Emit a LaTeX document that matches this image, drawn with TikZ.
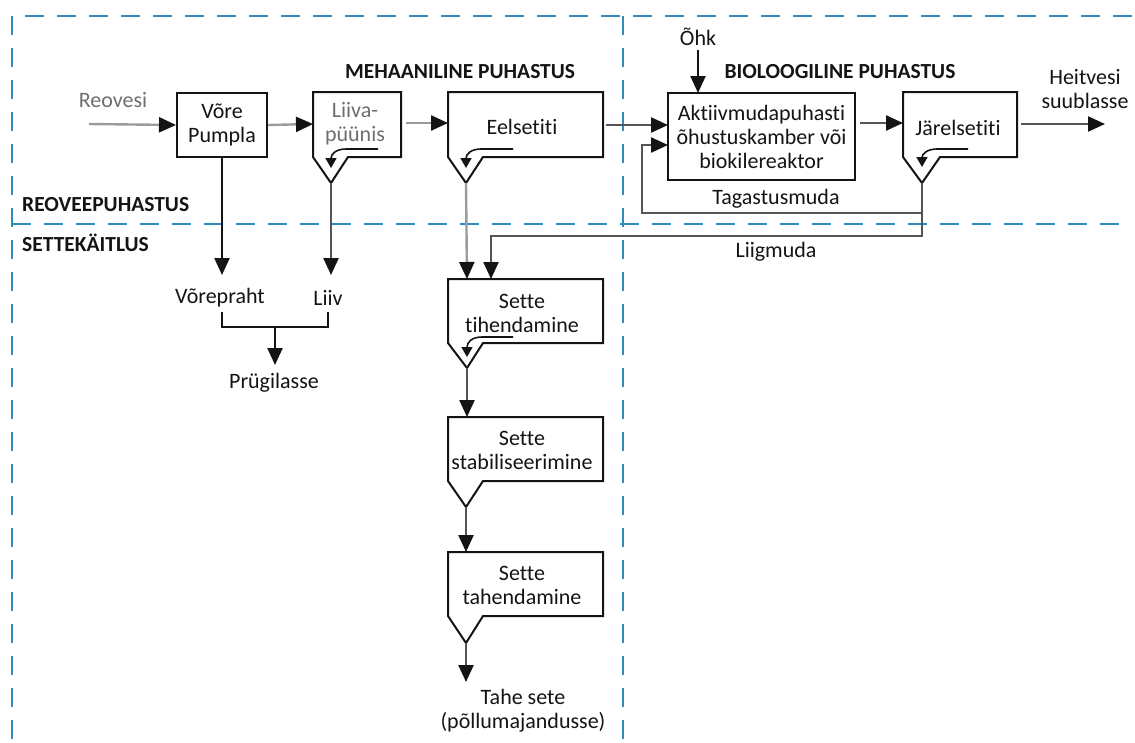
\documentclass[tikz,border=0pt]{standalone}
\usepackage{fontspec}
\setmainfont{Carlito}[Ligatures=NoCommon]
\usetikzlibrary{arrows.meta}
\definecolor{zoneblue}{RGB}{48,140,188}
\definecolor{ink}{RGB}{20,20,20}
\definecolor{lgray}{RGB}{155,155,155}
\definecolor{mgray}{RGB}{85,85,85}
\definecolor{tgray}{RGB}{110,110,110}
\begin{document}
\begin{tikzpicture}[x=1pt,y=-1pt,
  lbl/.style={font=\fontsize{22}{24}\selectfont, align=center, inner sep=0pt, text=ink},
  hdr/.style={font=\fontsize{21.5}{24}\selectfont\bfseries, inner sep=0pt, text=ink},
  zone/.style={draw=zoneblue, line width=2pt, dash pattern=on 19pt off 13pt},
  boxline/.style={draw=ink, line width=2pt, line join=miter},
  flow/.style={draw=ink, line width=2.4pt, -{Triangle[length=17pt,width=15pt,color=ink]}},
  gflow/.style={flow, draw=lgray},
  mflow/.style={flow, draw=mgray},
  pipe/.style={draw=ink, line width=2.2pt},
  inner/.style={draw=ink, line width=1.6pt, -{Triangle[length=10pt,width=11pt,color=ink]}}
]
\useasboundingbox (0,0) rectangle (1135,742);

% zones
\draw[zone] (1132,16) -- (12,16) -- (12,742);
\draw[zone] (623,16) -- (623,742);
\draw[zone] (12,224) -- (1132,224);
\node[hdr, anchor=west] (reoveepuh) at (22,205) {REOVEEPUHASTUS};
\node[hdr, anchor=west] (settek) at (22,243) {SETTEKÄITLUS};
\node[hdr] (meh) at (460,72) {MEHAANILINE PUHASTUS};
\node[hdr] (bio) at (840,72) {BIOLOOGILINE PUHASTUS};

% Võre
\node[boxline, lbl, minimum width=90, minimum height=64] (vore) at (222,125) {Võre\\Pumpla};

% Liiva-püünis
\draw[boxline] (313,92) -- (401,92) -- (401,157) -- (348,157) -- (331,183) -- (313,157) -- cycle;
\coordinate (liivatip) at (331,183);
\coordinate (liivain) at (313,124);
\coordinate (liivaout) at (406,123);
\node[lbl, text=tgray] (liiva) at (355,124) {Liiva-\\püünis};

% Eelsetiti
\draw[boxline] (448,92) -- (603,92) -- (603,157) -- (483,157) -- (466,183) -- (448,157) -- cycle;
\coordinate (eeltip) at (466,183);
\coordinate (eelin) at (448,123);
\coordinate (eelout) at (606,125);
\node[lbl] (eel) at (522,127) {Eelsetiti};

% Aktiiv
\node[boxline, lbl, minimum width=187, minimum height=87] (akt) at (761.5,136.5) {Aktiivmudapuhasti\\õhustuskamber või\\biokilereaktor};
\coordinate (aktin) at (668,125);
\coordinate (aktret) at (668,145);
\coordinate (aktout) at (860,123);
\coordinate (akttop) at (698,93);

% Järelsetiti
\draw[boxline] (903,92) -- (1017,92) -- (1017,157) -- (940,157) -- (922,183) -- (903,157) -- cycle;
\coordinate (jartip) at (922,183);
\coordinate (jarin) at (903,123);
\coordinate (jarout) at (1021,124);
\node[lbl] (jar) at (958,128) {Järelsetiti};

% Sette boxes
\draw[boxline] (448,279) -- (603,279) -- (603,343) -- (483,343) -- (467,368) -- (448,343) -- cycle;
\coordinate (s1top) at (467,279);
\coordinate (s1topb) at (491,279);
\coordinate (s1tip) at (467,368);
\node[lbl] (s1) at (522,313) {Sette\\tihendamine};

\draw[boxline] (448,417) -- (603,417) -- (603,481) -- (483,481) -- (466,507) -- (448,481) -- cycle;
\coordinate (s2top) at (467,417);
\coordinate (s2tip) at (466,507);
\node[lbl] (s2) at (522,450) {Sette\\stabiliseerimine};

\draw[boxline] (448,552) -- (603,552) -- (603,616) -- (483,616) -- (466,643) -- (448,616) -- cycle;
\coordinate (s3top) at (466,552);
\coordinate (s3tip) at (466,643);
\node[lbl] (s3) at (522,585) {Sette\\tahendamine};

% labels
\node[lbl, text=tgray] (reovesi) at (113,100) {Reovesi};
\coordinate (reoin) at (89,124);
\node[lbl] (ohk) at (698,37) {Õhk};
\coordinate (ohkstart) at (698,50);
\node[lbl] (heit) at (1085,89) {Heitvesi\\suublasse};
\coordinate (heitend) at (1105,124);
\node[lbl] (tag) at (776,199) {Tagastusmuda};
\node[lbl] (liig) at (776,252) {Liigmuda};
\node[lbl] (vorepraht) at (220,298) {Võrepraht};
\node[lbl] (liiv) at (328,298) {Liiv};
\node[lbl] (prugi) at (274,383) {Prügilasse};
\node[lbl] (tahe) at (523,711) {Tahe sete\\(põllumajandusse)};

% main flow
\draw[gflow] (reoin) -- (vore.west);
\draw[gflow] (vore.east) -- (liivain);
\draw[gflow] (liivaout) -- (eelin);
\draw[mflow] (eelout) -- (aktin);
\draw[flow] (ohkstart) -- (akttop);
\draw[mflow] (aktout) -- (jarin);
\draw[mflow] (jarout) -- (heitend);

% return and excess sludge
\coordinate (ret1) at (922,213);
\coordinate (ret2) at (642,213);
\coordinate (ret3) at (642,145);
\draw[mflow] (jartip) -- (ret1) -- (ret2) -- (ret3) -- (aktret);
\coordinate (liig1) at (922,236);
\coordinate (liig2) at (491,236);
\draw[mflow] (ret1) -- (liig1) -- (liig2) -- (s1topb);

% downward
\coordinate (vorebot) at (222,275);
\coordinate (liivbot) at (331,275);
\draw[flow] (vore.south) -- (vorebot);
\draw[mflow] (liivatip) -- (liivbot);
\draw[gflow] (eeltip) -- (s1top);
\coordinate (br1) at (222,312);
\coordinate (br2) at (222,327);
\coordinate (br3) at (328,327);
\coordinate (br4) at (328,312);
\coordinate (brm) at (275,327);
\coordinate (brend) at (275,365);
\draw[pipe] (br1) -- (br2) -- (br3) -- (br4);
\draw[flow] (brm) -- (brend);
\draw[mflow] (s1tip) -- (s2top);
\draw[mflow] (s2tip) -- (s3top);
\coordinate (tahend) at (466,682);
\draw[mflow] (s3tip) -- (tahend);

% inner arrows
\draw[inner] (378,149) -- (346,149) .. controls (336,149) and (331,154) .. (331,168);
\draw[inner] (513,149) -- (481,149) .. controls (471,149) and (466,154) .. (466,168);
\draw[inner] (968,149) -- (937,149) .. controls (927,149) and (922,154) .. (922,167);
\draw[inner] (513,337) -- (482,337) .. controls (472,337) and (467,342) .. (467,357);
\end{tikzpicture}
\end{document}
